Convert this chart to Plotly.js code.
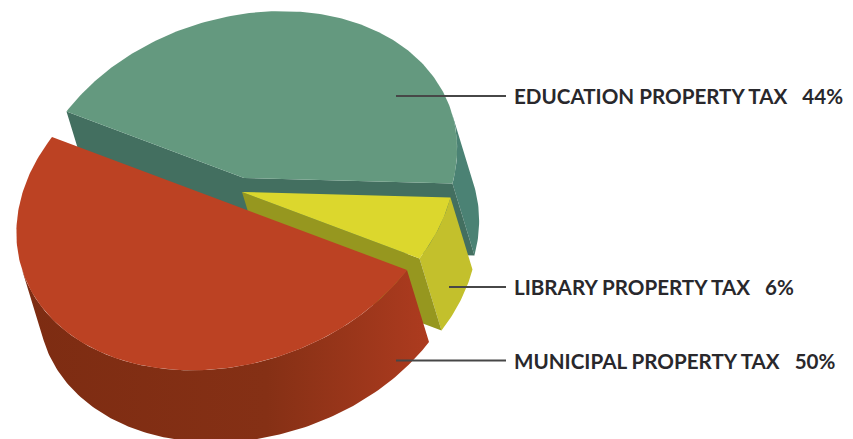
<!DOCTYPE html>
<html><head><meta charset="utf-8">
<script src="https://cdn.plot.ly/plotly-3.0.1.min.js"></script>
<style>html,body{margin:0;padding:0;background:#fff}#c{width:853px;height:439px}</style>
</head><body><div id="c"></div>
<script>
// Data
const categories = ['MUNICIPAL PROPERTY TAX', 'EDUCATION PROPERTY TAX', 'LIBRARY PROPERTY TAX'];
const shares = [50, 44, 6];
// Styling
const topColors = ['#bc4223', '#64997f', '#dcd72d'];
const wallColors = ['#a3371b', '#436f60', '#96971f'];
const rimColors = [null, '#4b8274', '#c3c02c'];
const redRimScale = [[0, '#7d2c12'], [0.6, '#853015'], [1, '#ad3b1f']];
const centres = [[229.5, 203.5], [244, 178], [242, 192]];
const labelY = [360.5, 96, 287];
const lineStart = [396, 396, 449];
const labelOrder = [1, 2, 0];

// Projection of the tilted pie
const U = [177.5, 66.5], V = [-118, 153], D = [22, 72];
const pt = (c, t, d = 0) => {
  const r = t * Math.PI / 180;
  return [c[0] + U[0] * Math.cos(r) + V[0] * Math.sin(r) + d * D[0],
          c[1] + U[1] * Math.cos(r) + V[1] * Math.sin(r) + d * D[1]];
};
const arc = (c, a, b, d = 0) => {
  const out = [], n = Math.max(2, Math.ceil(Math.abs(b - a)));
  for (let i = 0; i <= n; i++) out.push(pt(c, a + (b - a) * i / n, d));
  return out;
};
const poly = (pts, color, extra) => Object.assign({
  type: 'scatter', mode: 'lines', x: pts.map(p => p[0]), y: pts.map(p => p[1]),
  fill: 'toself', fillcolor: color, line: {width: 0, color: color},
  hoverinfo: 'skip', showlegend: false
}, extra || {});

// slice angle ranges from the shares
let a = 0;
const ranges = shares.map(s => { const r = [a, a + s * 3.6]; a = r[1]; return r; });

// angle where the cylinder's outline runs parallel to the depth direction (about -46 degrees)
const tangent = Math.atan2(V[0] * D[1] - V[1] * D[0], U[0] * D[1] - U[1] * D[0]) * 180 / Math.PI;
// keep only the front-facing part of each slice's rim, from tangent to tangent + 180
const clipRim = (t0, t1) => t0 < 180
  ? [t0, Math.min(t1, tangent + 180)]
  : [Math.max(t0, tangent + 360), t1];

const traces = [];
const drawOrder = [1, 2, 0];
drawOrder.forEach(i => {
  const c = centres[i], [t0, t1] = ranges[i];
  const [r0, r1] = clipRim(t0, t1);
  const rim = arc(c, r0, r1).concat(arc(c, r1, r0, 1));
  if (i === 0) {
    traces.push(poly(rim, wallColors[0], {fillgradient: {type: 'horizontal', colorscale: redRimScale}}));
  } else {
    traces.push(poly(rim, rimColors[i]));
  }
  if (i === 1) {
    const s = pt(c, t0), e = pt(c, t1), s2 = pt(c, t0, 1), e2 = pt(c, t1, 1), c2 = [c[0] + D[0], c[1] + D[1]];
    traces.push(poly([s, c, e, e2, c2, s2], wallColors[1]));
  }
  if (i === 2) {
    const e = pt(c, t1), e2 = pt(c, t1, 1), c2 = [c[0] + D[0], c[1] + D[1]];
    traces.push(poly([c, e, e2, c2], wallColors[2]));
  }
  traces.push(poly([c].concat(arc(c, t0, t1)).concat([c]), topColors[i]));
});

// leader lines
const leaderEnd = 506;
labelOrder.forEach(i => traces.push({
  type: 'scatter', mode: 'lines', x: [lineStart[i], leaderEnd], y: [labelY[i], labelY[i]],
  line: {color: '#474747', width: 2}, hoverinfo: 'skip', showlegend: false
}));

const gap = '\u00a0\u00a0\u00a0';
const annotations = labelOrder.map(i => ({
  xref: 'x', yref: 'y', x: 512, y: labelY[i], xanchor: 'left', yanchor: 'middle',
  showarrow: false, align: 'left',
  text: '<b>' + categories[i] + gap + shares[i] + '%</b>',
  font: {family: 'Lato, sans-serif', size: 20.6, color: '#29282c'}
}));

Plotly.newPlot('c', traces, {
  width: 853, height: 439, margin: {l: 0, r: 0, t: 0, b: 0},
  paper_bgcolor: '#fff', plot_bgcolor: '#fff', showlegend: false,
  xaxis: {range: [0, 853], visible: false, fixedrange: true},
  yaxis: {range: [439, 0], visible: false, fixedrange: true},
  annotations
}, {displayModeBar: false, staticPlot: true});
</script></body></html>
